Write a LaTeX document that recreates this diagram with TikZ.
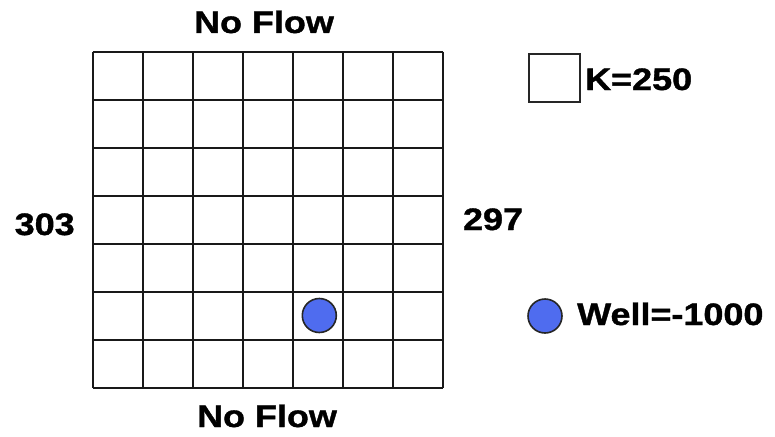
\documentclass[tikz,border=0pt]{standalone}
\usepackage{fontspec}
\newfontfamily\lab[FakeStretch=1.16,FakeBold=1.2]{Liberation Sans}
\definecolor{wellblue}{RGB}{79,108,239}
\tikzset{
  lbl/.style={font=\lab\bfseries\fontsize{31}{31}\selectfont, inner sep=0pt, anchor=base},
  gridline/.style={line width=2pt, black!90},
  wellmark/.style={circle, draw=black!85, line width=1.6pt, fill=wellblue, minimum size=34pt, inner sep=0pt},
  keybox/.style={draw=black!85, line width=1.6pt, fill=white, minimum width=51pt, minimum height=48pt, inner sep=0pt}
}
\begin{document}
\begin{tikzpicture}[x=1pt,y=-1pt]
\useasboundingbox (0,0) rectangle (775,436);
% grid
\foreach \i in {0,...,7} {
  \draw[gridline] ({92.7+50.09*\i},51.7) -- ({92.7+50.09*\i},388.3);
  \draw[gridline] (92.7,{51.7+48.09*\i}) -- (443.3,{51.7+48.09*\i});
}
\node[wellmark] (well) at (319.3,315.5) {};
% labels
\node[lbl] (top) at (264,33) {No Flow};
\node[lbl] (bottom) at (267,427) {No Flow};
\node[lbl] (left) at (44.7,235) {303};
\node[lbl] (right) at (493,230) {297};
% legend
\node[keybox] (kbox) at (554.5,78) {};
\node[lbl, anchor=base west] (ktext) at (585,90) {K=250};
\node[wellmark] (wkey) at (545,316) {};
\node[lbl, anchor=base west] (wtext) at (577,325) {Well=-1000};
\end{tikzpicture}
\end{document}
